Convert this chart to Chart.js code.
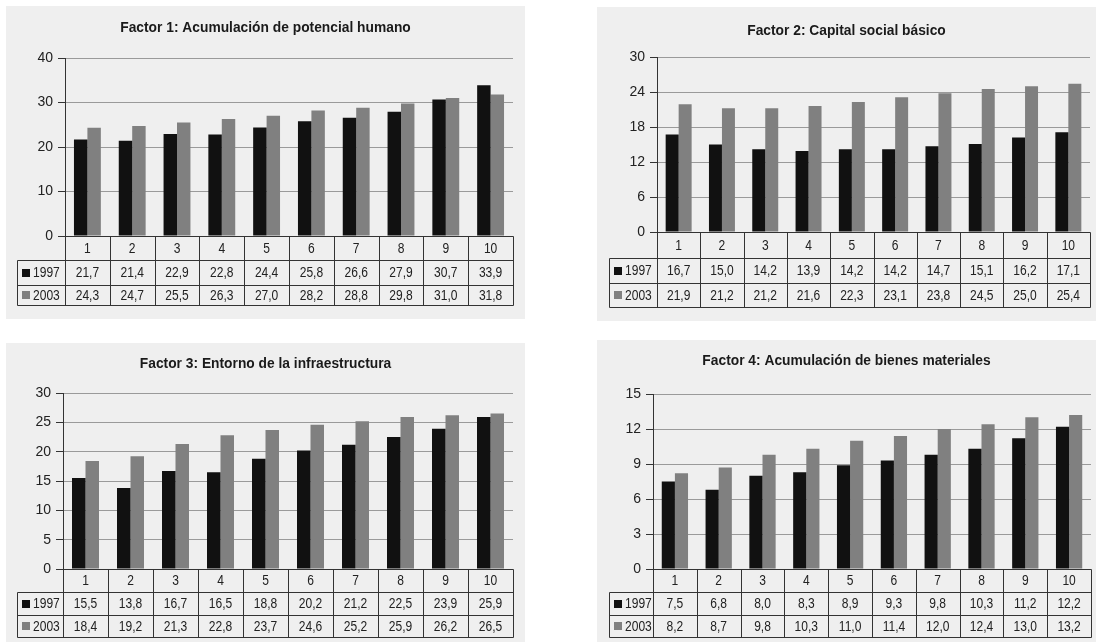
<!DOCTYPE html>
<html>
<head>
<meta charset="utf-8">
<script src="https://cdn.jsdelivr.net/npm/chart.js@4/dist/chart.umd.min.js"></script>
<style>
  body { margin: 0; background: #fff; width: 1096px; height: 642px; overflow: hidden; position: relative; }
  canvas { position: absolute; background: #efefef; }
</style>
</head>
<body>
<canvas id="c1"></canvas>
<canvas id="c2"></canvas>
<canvas id="c3"></canvas>
<canvas id="c4"></canvas>
<script>
const categories = ['1', '2', '3', '4', '5', '6', '7', '8', '9', '10'];
const years = ['1997', '2003'];
const titles = [
  'Factor 1: Acumulación de potencial humano',
  'Factor 2: Capital social básico',
  'Factor 3: Entorno de la infraestructura',
  'Factor 4: Acumulación de bienes materiales'
];

const f1_1997 = [21.7, 21.4, 22.9, 22.8, 24.4, 25.8, 26.6, 27.9, 30.7, 33.9];
const f1_2003 = [24.3, 24.7, 25.5, 26.3, 27.0, 28.2, 28.8, 29.8, 31.0, 31.8];
const f2_1997 = [16.7, 15.0, 14.2, 13.9, 14.2, 14.2, 14.7, 15.1, 16.2, 17.1];
const f2_2003 = [21.9, 21.2, 21.2, 21.6, 22.3, 23.1, 23.8, 24.5, 25.0, 25.4];
const f3_1997 = [15.5, 13.8, 16.7, 16.5, 18.8, 20.2, 21.2, 22.5, 23.9, 25.9];
const f3_2003 = [18.4, 19.2, 21.3, 22.8, 23.7, 24.6, 25.2, 25.9, 26.2, 26.5];
const f4_1997 = [7.5, 6.8, 8.0, 8.3, 8.9, 9.3, 9.8, 10.3, 11.2, 12.2];
const f4_2003 = [8.2, 8.7, 9.8, 10.3, 11.0, 11.4, 12.0, 12.4, 13.0, 13.2];

const yMax = [40, 30, 30, 15];
const yStep = [10, 6, 5, 3];

const series = [[f1_1997, f1_2003], [f2_1997, f2_2003], [f3_1997, f3_2003], [f4_1997, f4_2003]];

// panel geometry (page position, canvas size, plot area and table rows in canvas coords)
const panels = [
  { x: 6,   y: 6,   w: 519, h: 313, axisL: 59, top: 52, bottom: 230, right: 507, rows: [254, 279, 299], tableL: 11, titleY: 21 },
  { x: 597, y: 7,   w: 499, h: 314, axisL: 60, top: 50, bottom: 225, right: 493, rows: [251, 276, 300], tableL: 12, titleY: 23 },
  { x: 6,   y: 343, w: 519, h: 299, axisL: 57, top: 50, bottom: 226, right: 507, rows: [249, 272, 294], tableL: 11, titleY: 20 },
  { x: 597, y: 340, w: 499, h: 302, axisL: 56, top: 54, bottom: 229, right: 494, rows: [252, 275, 297], tableL: 12, titleY: 20 }
];

const FONT = '"Liberation Sans", Arial, sans-serif';
const colors = ['#111111', '#808080'];
Chart.defaults.font.family = FONT;

const fmt = v => v.toFixed(1).replace('.', ',');

// text squeezed sideways, the original uses a condensed face
function narrowText(ctx, text, x, y, sx) {
  ctx.save();
  ctx.translate(x, y);
  ctx.scale(sx, 1);
  ctx.fillText(text, 0, 0);
  ctx.restore();
}

function tablePlugin(p, idx) {
  return {
    id: 'dataTable' + idx,
    afterDraw(chart) {
      const ctx = chart.ctx;
      const a = chart.chartArea;
      const xs = chart.scales.x;
      const colW = (a.right - a.left) / categories.length;
      const r0 = a.bottom, r1 = p.rows[0], r2 = p.rows[1], r3 = p.rows[2];
      const px = v => Math.round(v) + 0.5;
      ctx.save();

      // title
      ctx.fillStyle = '#1a1a1a';
      ctx.font = 'bold 15.5px ' + FONT;
      ctx.textAlign = 'center';
      ctx.textBaseline = 'middle';
      narrowText(ctx, titles[idx], p.w / 2, p.titleY + 1, 0.89);

      // grid of the table
      ctx.strokeStyle = '#333';
      ctx.lineWidth = 1;
      ctx.beginPath();
      ctx.moveTo(px(a.left), px(r0)); ctx.lineTo(px(a.right), px(r0));
      [r1, r2, r3].forEach(y => { ctx.moveTo(px(p.tableL), px(y)); ctx.lineTo(px(a.right), px(y)); });
      ctx.moveTo(px(p.tableL), px(r1)); ctx.lineTo(px(p.tableL), px(r3));
      for (let i = 0; i <= categories.length; i++) {
        const x = a.left + i * colW;
        ctx.moveTo(px(x), px(r0)); ctx.lineTo(px(x), px(r3));
      }
      ctx.stroke();

      // texts
      ctx.font = '14px ' + FONT;
      ctx.fillStyle = '#222';
      categories.forEach((c, i) => {
        const cx = xs.getPixelForValue(i);
        narrowText(ctx, c, cx, (r0 + r1) / 2 + 1, 0.86);
        narrowText(ctx, fmt(series[idx][0][i]), cx, (r1 + r2) / 2 + 1, 0.86);
        narrowText(ctx, fmt(series[idx][1][i]), cx, (r2 + r3) / 2 + 1, 0.86);
      });

      // legend keys
      ctx.textAlign = 'left';
      [[r1, r2], [r2, r3]].forEach(([ya, yb], k) => {
        const cy = (ya + yb) / 2;
        ctx.fillStyle = colors[k];
        ctx.fillRect(p.tableL + 5, Math.round(cy - 4), 8, 8);
        ctx.fillStyle = '#222';
        narrowText(ctx, years[k], p.tableL + 16, cy + 1, 0.86);
      });
      ctx.restore();
    }
  };
}

panels.forEach((p, idx) => {
  const canvas = document.getElementById('c' + (idx + 1));
  canvas.width = p.w;
  canvas.height = p.h;
  canvas.style.left = p.x + 'px';
  canvas.style.top = p.y + 'px';

  new Chart(canvas.getContext('2d'), {
    type: 'bar',
    data: {
      labels: categories,
      datasets: years.map((yr, k) => ({
        label: yr,
        data: series[idx][k],
        backgroundColor: colors[k],
        borderWidth: 0,
        categoryPercentage: 0.6,
        barPercentage: 1.0
      }))
    },
    options: {
      responsive: false,
      animation: false,
      devicePixelRatio: 1,
      layout: { padding: { left: 0, top: p.top, right: p.w - p.right, bottom: p.h - p.bottom } },
      plugins: { legend: { display: false }, title: { display: false }, tooltip: { enabled: false } },
      scales: {
        x: { display: false },
        y: {
          min: 0,
          max: yMax[idx],
          afterFit: s => { s.width = p.axisL; },
          ticks: { stepSize: yStep[idx], color: '#222', font: { size: 14 }, padding: 5 },
          grid: { color: '#9a9a9a', tickColor: '#333', tickLength: 7 },
          border: { color: '#333' }
        }
      }
    },
    plugins: [tablePlugin(p, idx)]
  });
});
</script>
</body>
</html>
